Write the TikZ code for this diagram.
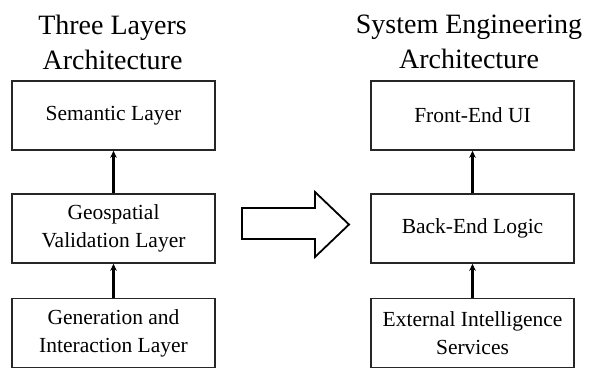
\documentclass[tikz,border=0pt]{standalone}
\usepackage{fontspec}
\setmainfont{Liberation Serif}
\usetikzlibrary{arrows.meta}
\begin{document}
\begin{tikzpicture}[x=1pt,y=-1pt,
  box/.style={draw=black!85,line width=1.6pt,minimum width=203pt,minimum height=69pt,align=center,inner sep=0pt,font=\fontsize{21.5}{28}\selectfont},
  ttl/.style={align=center,inner sep=0pt,font=\fontsize{28}{35}\selectfont},
  conn/.style={line width=2.4pt,-{Stealth[length=7pt,width=6.5pt]}}]
\useasboundingbox (0,0) rectangle (591,369);
\node[ttl] (t1) at (112.5,42.5) {Three Layers\\Architecture};
\node[ttl] (t2) at (469,41.5) {System Engineering\\Architecture};
\node[box] (a1) at (113.5,115.5) {Semantic Layer};
\node[box] (a2) at (113.5,228.5) {Geospatial\\Validation Layer};
\node[box] (a3) at (113.5,333) {Generation and\\Interaction Layer};
\node[box] (b1) at (472.5,115.5) {Front-End UI};
\node[box] (b2) at (472.5,228.5) {Back-End Logic};
\node[box] (b3) at (472.5,333) {External Intelligence\\Services};
\draw[conn] (a2) -- (a1);
\draw[conn] (a3) -- (a2);
\draw[conn] (b2) -- (b1);
\draw[conn] (b3) -- (b2);
\draw[line width=1.8pt,line join=miter] (242,208) -- (315,208) -- (315,192) -- (349,224.5) -- (315,257) -- (315,239) -- (242,239) -- cycle;
\end{tikzpicture}
\end{document}
